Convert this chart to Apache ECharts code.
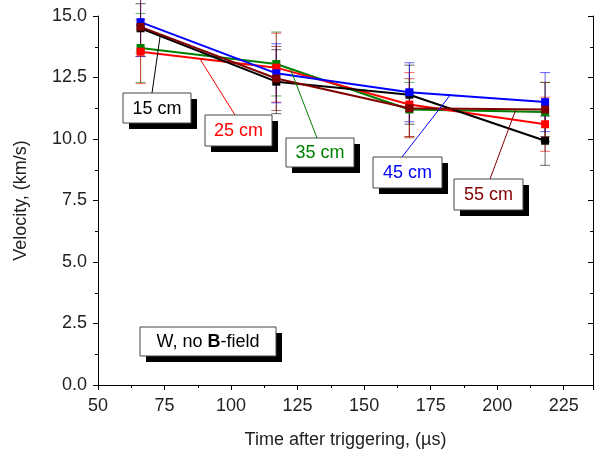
<!DOCTYPE html>
<html>
<head>
<meta charset="utf-8">
<script src="https://cdn.jsdelivr.net/npm/echarts@6/dist/echarts.min.js"></script>
<style>
  html, body { margin: 0; padding: 0; background: #fff; }
  #main { width: 594px; height: 459px; }
</style>
</head>
<body>
<div id="main"></div>
<script>
// time after triggering (us)
var times = [66, 117, 167, 218];
// velocities (km/s) for each distance
var v15 = [14.5, 12.33, 11.8, 9.93];
var v25 = [13.55, 12.9, 11.4, 10.6];
var v35 = [13.7, 13.05, 11.2, 11.1];
var v45 = [14.75, 12.67, 11.9, 11.5];
var v55 = [14.56, 12.46, 11.25, 11.2];
// error bars (+/-)
var e15 = [1.0, 1.3, 1.2, 1.0];
var e25 = [1.3, 1.4, 1.3, 1.1];
var e35 = [1.4, 1.3, 1.1, 1.2];
var e45 = [1.4, 1.2, 1.2, 1.2];
var e55 = [1.2, 1.3, 1.2, 1.1];

var names = ['35 cm', '25 cm', '15 cm', '45 cm', '55 cm'];
var colors = ['#008000', '#ff0000', '#000000', '#0000ff', '#800000'];
var vals = [v35, v25, v15, v45, v55];
var errs = [e35, e25, e15, e45, e55];

var FONT = '"Liberation Sans", Arial, sans-serif';

function pairs(v) {
  return times.map(function (t, i) { return [t, v[i]]; });
}
function errData(v, e) {
  return times.map(function (t, i) { return [t, v[i] - e[i], v[i] + e[i]]; });
}
function errRender(color) {
  return function (params, api) {
    var lo = api.coord([api.value(0), api.value(1)]);
    var hi = api.coord([api.value(0), api.value(2)]);
    var w = 5;
    var st = { stroke: color, lineWidth: 1, opacity: 0.6 };
    return {
      type: 'group',
      children: [
        { type: 'line', shape: { x1: lo[0], y1: lo[1], x2: hi[0], y2: hi[1] }, style: st },
        { type: 'line', shape: { x1: lo[0] - w, y1: lo[1], x2: lo[0] + w, y2: lo[1] }, style: st },
        { type: 'line', shape: { x1: hi[0] - w, y1: hi[1], x2: hi[0] + w, y2: hi[1] }, style: st }
      ]
    };
  };
}

var series = [];
vals.forEach(function (v, k) {
  series.push({
    type: 'custom',
    name: names[k] + ' err',
    renderItem: errRender(colors[k]),
    data: errData(v, errs[k]),
    encode: { x: 0, y: [1, 2] },
    z: 1,
    silent: true
  });
});
vals.forEach(function (v, k) {
  series.push({
    type: 'line',
    name: names[k],
    data: pairs(v),
    symbol: 'rect',
    symbolSize: 8,
    lineStyle: { color: colors[k], width: 2 },
    itemStyle: { color: colors[k] },
    z: 3,
    silent: true
  });
});

// annotation boxes: [label, color, x, y, w, h, lineFrom, lineTo]
var annos = [
  ['15 cm', '#000000', 123, 93, 68, 30, [152, 93], [160, 37]],
  ['25 cm', '#ff0000', 205, 115, 67, 31, [235, 115], [200, 59]],
  ['35 cm', '#008000', 286, 138, 68, 29, [317, 138], [290, 68]],
  ['45 cm', '#0000ff', 373, 157, 69, 31, [402, 157], [451, 94]],
  ['55 cm', '#800000', 454, 179, 69, 31, [490, 179], [516, 109]]
];

var graphics = [];
annos.forEach(function (a) {
  graphics.push({
    type: 'line', z: 10,
    shape: { x1: a[6][0], y1: a[6][1], x2: a[7][0], y2: a[7][1] },
    style: { stroke: a[1], lineWidth: 1 }
  });
  graphics.push({
    type: 'rect', z: 10,
    shape: { x: a[2] + 6, y: a[3] + 6, width: a[4], height: a[5] },
    style: { fill: '#000' }
  });
  graphics.push({
    type: 'rect', z: 11,
    shape: { x: a[2], y: a[3], width: a[4], height: a[5] },
    style: { fill: '#fff', stroke: '#444', lineWidth: 1 }
  });
  graphics.push({
    type: 'text', z: 12,
    x: a[2] + a[4] / 2, y: a[3] + a[5] / 2 + 1,
    style: { text: a[0], fill: a[1], font: '18px ' + FONT, align: 'center', verticalAlign: 'middle' }
  });
});
// W, no B-field
graphics.push({ type: 'rect', z: 10, shape: { x: 146, y: 333, width: 136, height: 29 }, style: { fill: '#000' } });
graphics.push({ type: 'rect', z: 11, shape: { x: 140, y: 327, width: 136, height: 29 }, style: { fill: '#fff', stroke: '#444', lineWidth: 1 } });
graphics.push({
  type: 'text', z: 12, x: 208, y: 342,
  style: {
    text: '{n|W, no }{b|B}{n|-field}',
    align: 'center', verticalAlign: 'middle',
    rich: {
      n: { font: '18px ' + FONT, fill: '#000' },
      b: { font: 'bold 18px ' + FONT, fill: '#000' }
    }
  }
});

var axisLine = { show: true, lineStyle: { color: '#000', width: 1 } };

var option = {
  animation: false,
  backgroundColor: '#fff',
  grid: { left: 98, right: 1, top: 16, bottom: 74, containLabel: false },
  xAxis: [{
    type: 'value', min: 50, max: 236, interval: 25,
    name: 'Time after triggering, (\u00b5s)', nameLocation: 'middle', nameGap: 46,
    nameTextStyle: { fontSize: 18, fontFamily: FONT, color: '#222' },
    axisLine: axisLine,
    axisTick: { show: true, inside: false, length: 5, lineStyle: { color: '#000' } },
    minorTick: { show: true, splitNumber: 2, length: 3, lineStyle: { color: '#000' } },
    axisLabel: { fontSize: 18, fontFamily: FONT, color: '#222', margin: 12, showMaxLabel: false },
    splitLine: { show: false }
  }, {
    type: 'value', min: 50, max: 236, interval: 25, position: 'top',
    axisLine: axisLine,
    axisTick: { show: true, inside: true, length: 5, lineStyle: { color: '#000' } },
    minorTick: { show: true, splitNumber: 2, length: 3, lineStyle: { color: '#000' } },
    axisLabel: { show: false },
    splitLine: { show: false }
  }],
  yAxis: [{
    type: 'value', min: 0, max: 15, interval: 2.5,
    name: 'Velocity, (km/s)', nameLocation: 'middle', nameGap: 68, nameRotate: 90,
    nameTextStyle: { fontSize: 18, fontFamily: FONT, color: '#222' },
    axisLine: axisLine,
    axisTick: { show: true, inside: false, length: 5, lineStyle: { color: '#000' } },
    minorTick: { show: true, splitNumber: 2, length: 3, lineStyle: { color: '#000' } },
    axisLabel: {
      fontSize: 18, fontFamily: FONT, color: '#222', margin: 11,
      formatter: function (v) { return v.toFixed(1); }
    },
    splitLine: { show: false }
  }, {
    type: 'value', min: 0, max: 15, interval: 2.5, position: 'right',
    axisLine: axisLine,
    axisTick: { show: true, inside: true, length: 5, lineStyle: { color: '#000' } },
    minorTick: { show: true, splitNumber: 2, length: 3, lineStyle: { color: '#000' } },
    axisLabel: { show: false },
    splitLine: { show: false }
  }],
  series: series,
  graphic: graphics
};

var chart = echarts.init(document.getElementById('main'), null, { renderer: 'canvas' });
chart.setOption(option);
</script>
</body>
</html>
